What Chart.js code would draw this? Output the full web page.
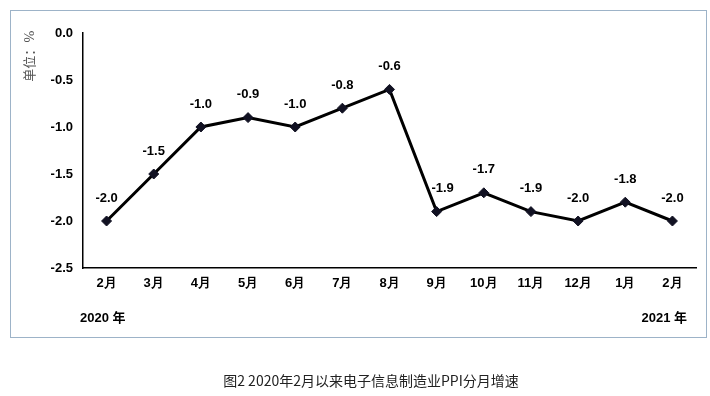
<!DOCTYPE html>
<html>
<head>
<meta charset="utf-8">
<script src="https://cdn.jsdelivr.net/npm/chart.js@4"></script>
<style>
  html, body { margin: 0; padding: 0; background: #fff; }
  #wrap { width: 710px; height: 396px; position: relative; }
</style>
</head>
<body>
<div id="wrap"><canvas id="ppiChart" width="710" height="396"></canvas></div>
<script>
// 电子信息制造业PPI分月增速
const months = ["2月", "3月", "4月", "5月", "6月", "7月", "8月", "9月", "10月", "11月", "12月", "1月", "2月"];
const ppiGrowth = [-2.0, -1.5, -1.0, -0.9, -1.0, -0.8, -0.6, -1.9, -1.7, -1.9, -2.0, -1.8, -2.0];
const yearLabels = ["2020 年", "2021 年"];
const unitLabel = "单位：%";
const caption = "图2 2020年2月以来电子信息制造业PPI分月增速";

const boldFont = { family: "Arial, 'Liberation Sans', sans-serif", size: 13, weight: "bold" };

// 边框、单位、年份、标题、数据标签
const extras = {
  id: "extras",
  afterDatasetsDraw(chart) {
    const ctx = chart.ctx;
    const meta = chart.getDatasetMeta(0);
    ctx.save();
    ctx.fillStyle = "#000";
    ctx.font = "bold 13px Arial, 'Liberation Sans', sans-serif";
    ctx.textAlign = "center";
    ctx.textBaseline = "middle";
    meta.data.forEach((pt, i) => {
      const dx = i === 7 ? 6 : 0;
      ctx.fillText(ppiGrowth[i].toFixed(1), pt.x + dx, pt.y - 23);
    });
    ctx.restore();
  },
  afterDraw(chart) {
    const ctx = chart.ctx;
    ctx.save();
    ctx.strokeStyle = "#9db3c8";
    ctx.lineWidth = 1;
    ctx.strokeRect(10.5, 10.5, 696, 327);

    ctx.fillStyle = "#000";
    ctx.font = "bold 13px Arial, 'Liberation Sans', 'Noto Sans CJK SC', sans-serif";
    ctx.textBaseline = "middle";
    ctx.textAlign = "left";
    ctx.fillText(yearLabels[0], 80, 318);
    ctx.textAlign = "right";
    ctx.fillText(yearLabels[1], 687, 318);

    ctx.translate(31, 56);
    ctx.rotate(-Math.PI / 2);
    ctx.fillStyle = "#555";
    ctx.font = "13px 'DejaVu Serif', 'Noto Sans CJK SC', serif";
    ctx.textAlign = "center";
    ctx.fillText(unitLabel, 0, 0);
    ctx.restore();

    ctx.save();
    ctx.fillStyle = "#222";
    ctx.font = "14px 'Noto Sans CJK SC', sans-serif";
    ctx.textAlign = "center";
    ctx.textBaseline = "middle";
    ctx.fillText(caption, 371, 381);
    ctx.restore();
  }
};

new Chart(document.getElementById("ppiChart").getContext("2d"), {
  type: "line",
  data: {
    labels: months,
    datasets: [{
      data: ppiGrowth,
      borderColor: "#000",
      borderWidth: 3,
      tension: 0,
      pointStyle: "rectRot",
      pointRadius: 5,
      pointBackgroundColor: "#111122",
      pointBorderColor: "#111122",
      pointBorderWidth: 1
    }]
  },
  options: {
    responsive: false,
    animation: false,
    layout: { padding: { left: 30, top: 33, right: 14, bottom: 98 } },
    plugins: { legend: { display: false }, tooltip: { enabled: false } },
    scales: {
      x: {
        offset: true,
        grid: { display: false, drawTicks: false },
        border: { color: "#000", width: 1.5 },
        ticks: { color: "#000", font: boldFont, padding: 8, maxRotation: 0, autoSkip: false },
        afterFit(scale) { scale.height = 30; }
      },
      y: {
        min: -2.5,
        max: 0,
        grid: { display: false, drawTicks: false },
        border: { color: "#000", width: 1.5 },
        ticks: {
          stepSize: 0.5,
          color: "#000",
          font: boldFont,
          padding: 10,
          callback: v => v.toFixed(1)
        },
        afterFit(scale) { scale.width = 53; }
      }
    }
  },
  plugins: [extras]
});
</script>
</body>
</html>
